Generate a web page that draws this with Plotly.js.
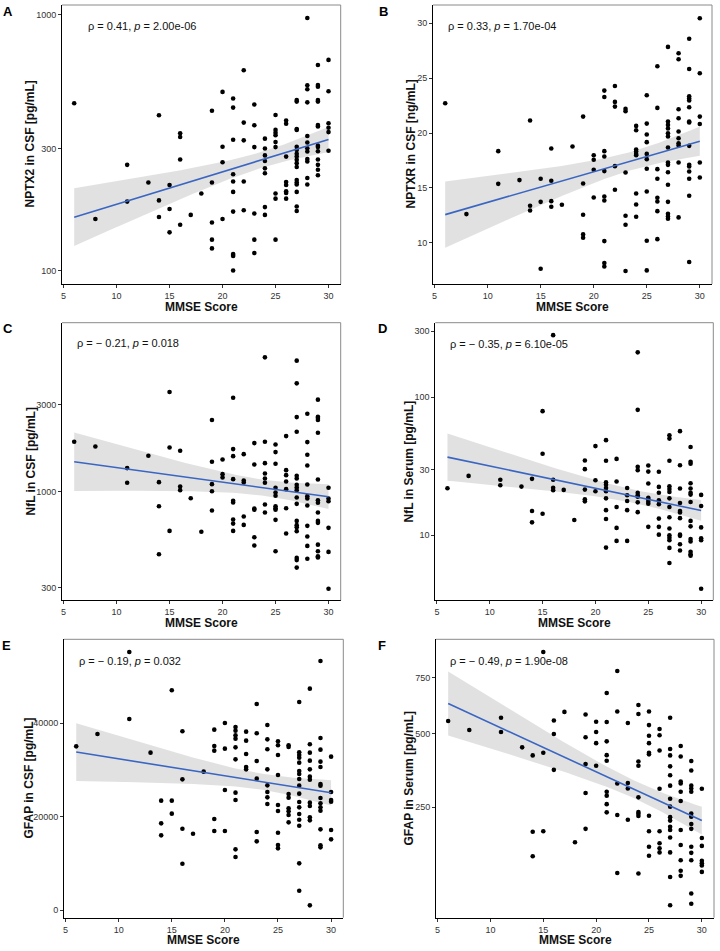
<!DOCTYPE html>
<html><head><meta charset="utf-8">
<script src="https://cdn.plot.ly/plotly-3.0.1.min.js"></script>
<style>body{margin:0;background:#fff}</style>
</head><body><div id="chart" style="width:720px;height:951px"></div>
<script>
// MMSE scores present in the cohort (shared x groups for every panel)
const mmseScores = [6,8,11,13,14,15,16,17,18,19,20,21,22,23,24,25,26,27,28,29,30];

// values grouped by MMSE score (same order as mmseScores)
const nptx2Csf = [[451],[159],[259,186],[221],[405,188,162],[216,174,141],[344,333,272,151],[165],[200],
 [422,221,154,132,122],[500,305,265,159],[471,434,325,238,223,203,170,116,114,100],[608,379,323,223,172],
 [446,370,304,167,132,117],[328,300,282,268,251,240,177,165],[406,355,346,338,318,304,200,191,132],
 [386,375,279,222,216,204,201,191],[465,458,358,355,305,296,286,279,271,263,254,226,221,217,203,178,171],
 [973,531,512,455,336,317,301,292,273,267,230,217],[637,532,524,465,458,371,366,308,304,293,272,259,248,236],
 [667,503,377,362,348,294]];
const nptxrCsf = [[22.72],[12.61],[18.35,15.37],[15.71],[21.14,13.37,12.94],[15.83,13.73,7.63],[18.59,15.65,13.79,13.28],[13.46],[18.77],
 [21.5,15.4,12.55,10.76,10.46],[17.98,17.56,16.65,14.13],[23.87,23.29,18.35,17.86,16.53,14.22,13.85,10.15,8.15,7.84],
 [24.29,22.84,22.41,16.98,14.83],[22.2,21.99,16.4,12.46,11.64,7.42],[20.65,20.26,18.5,18.32,18.1,17.98,14.49,13.49,12.37],
 [23.44,20.86,19.86,19.17,18.1,17.62,16.74,14.67,10.18,7.48],[26.09,22.29,16.71,15.83,14.1,13.76,12.88,10.33],
 [27.85,21.05,20.74,20.41,19.98,19.68,18.68,17.31,17.1,16.43,15.28,13.73,12.64,12.4,12.19],
 [27.27,26.72,22.17,21.35,20.14,19.53,19.07,18.86,17.31,12.31],
 [28.6,25.84,23.35,23.14,22.96,22.35,21.05,20.96,18.83,17.1,16.95,16.5,15.83,14.28,8.24],
 [30.46,25.45,21.5,20.83,17.31,15.95]];
const nflCsf = [[1875],[1769],[1347,1120],[1573],[1129,835,456],[3505,1747,612],[1675,1069,1021],[923],[605],
 [2464,1459,1101,1008,791],[1502,1249,1198],[3264,1711,1566,1173,893,874,706,671,612],[1606,1153,1125,733,660],
 [1845,1410,811,798,565,509],[5420,1875,1434,1259,1183,1120,853,771],[1814,1647,1422,1052,992,951,835,814,798,703,474],
 [2014,1313,1233,1139,1034,814,592],[5200,3908,2558,2128,1223,1183,1092,1056,1021,931,860,694,658,641,610,436,424,386],
 [2667,1868,1592,1393,1097,947,920,842,652,570,507,431],[3184,2571,2530,2464,2101,1168,900,871,771,694,677,515,474,445,438],
 [1052,920,889,636,470,296]];
const nflSerum = [[21.9],[26.9],[25.2,23.0],[22.5],[25.6,15.0,12.4],[79.2,38.9,14.3],[281,25.2,22.1,21.2],[21.3],[12.9],
 [34.8,30.1,21.4,18.2,17.6],[44.2,25.0,20.8],[48.8,34.6,24.2,23.2,22.0,20.8,18.5,15.2,13.1,8.14],[35.7,24.5,16.0,11.3,9.1],
 [22.0,19.5,17.7,15.2,9.1],[211,80.9,31.3,29.6,20.3,19.5,19.0,17.3,14.7],[32.0,28.9,23.7,18.7,18.2,17.5,16.9,11.5],
 [28.8,22.4,20.3,17.9,16.8,13.2,11.5,10.1],[53.0,50.1,34.6,22.6,21.6,20.6,18.5,16.0,13.5,11.2,10.0,9.6,9.2,8.1,6.3],
 [56.7,32.1,21.8,17.1,15.0,14.6,13.3,10.1,9.9,8.6,7.75],[43.5,34.0,32.9,23.8,21.8,20.3,19.7,17.4,12.7,11.6,9.4,9.0,7.6,7.3,7.1],
 [19.6,16.3,11.4,9.5,9.2,4.1]];
const gfapCsf = [[35071],[37714],[55286,40929],[33714],[23429,18571,16000],[47071,23429,20643],[38286,28000,17429,9929],[16357],[29643],
 [38643,35143,34143,19500,16929],[40071,34571,25714,16929],[39214,38429,37429,36714,34857,32286,25143,23571,13000,11357],
 [38214,36286,33429,30643,30143],[44143,37857,31929,28143,16714,14714],[39643,36571,34429,30143,26714,25286,24143,22714],
 [36143,35286,33214,28929,22500,21214,16571,13929,13214],[35286,34929,24857,24071,21786,21143,20357,18786],
 [44571,33786,33214,32643,31571,29786,29143,28071,26643,24929,23143,22000,20571,19357,18071,10000,4143],
 [47429,35500,33714,32000,30143,28571,27929,23000,22286,19857,19214,1000],
 [53357,36857,34357,31786,30643,27000,26643,24000,22857,22000,21286,17286,13857,13429],
 [32857,25286,23571,23214,17143,15143]];
const gfapSerum = [[553],[516],[567,508],[448],[418,186,131],[881,428,187],[555,500,367],[592],[161],
 [581,487,387,292,193],[550,508,464,381],[677,549,471,419,399,296,284,259,236],[783,594,322,229,99],
 [545,323,306,216],[622,583,396,381,279,237,232,226,98],[594,536,493,464,428,422,227,187,151,132],
 [520,495,436,305,187,159,148,139],[567,442,418,379,349,315,275,252,223,214,198,190,172,139,92,50],
 [453,414,328,322,296,268,190,155,123,103,94],[398,365,315,306,296,233,224,205,193,151,138,123,66,52],
 [305,171,153,122,117,113,101]];

const xTicks = [5,10,15,20,25,30];
const yTicksA = [100,300,1000];
const yTicksB = [10,15,20,25,30];
const yTicksC = [300,1000,3000];
const yTicksD = [10,30,100,300];
const yTicksE = [0,20000,40000];
const yTicksF = [250,500,750];

const panelLetters = ['A','B','C','D','E','F'];
const yTitles = ['NPTX2 in CSF [pg/mL]','NPTXR in CSF [ng/mL]','NfL in CSF [pg/mL]','NfL in Serum [pg/mL]','GFAP in CSF [pg/mL]','GFAP in Serum [pg/mL]'];
const statLabels = ['ρ = 0.41, <i>p</i> = 2.00e-06','ρ = 0.33, <i>p</i> = 1.70e-04','ρ = − 0.21, <i>p</i> = 0.018',
  'ρ = − 0.35, <i>p</i> = 6.10e-05','ρ = − 0.19, <i>p</i> = 0.032','ρ = − 0.49, <i>p</i> = 1.90e-08'];

// ---------- layout geometry (pixels) ----------
const W = 720, H = 951;
const panels = [
  {data:nptx2Csf, scale:'log',  ticks:yTicksA, yr:[1.947,3.039], box:{l:62,r:340.7,t:5,b:284},   ytx:30,  lab:{x:86,y:26},  let:{x:1,y:11}},
  {data:nptxrCsf, scale:'lin',  ticks:yTicksB, yr:[6.24,31.67],  box:{l:433,r:712,t:5,b:284},    ytx:411, lab:{x:446,y:26}, let:{x:377,y:11}},
  {data:nflCsf,   scale:'log',  ticks:yTicksC, yr:[2.408,3.923], box:{l:62,r:340.7,t:322.7,b:600.3}, ytx:30, lab:{x:75,y:343}, let:{x:1,y:328}},
  {data:nflSerum, scale:'log',  ticks:yTicksD, yr:[0.529,2.539], box:{l:435.3,r:713.3,t:322.7,b:600.3}, ytx:408, lab:{x:448,y:344}, let:{x:376,y:328}},
  {data:gfapCsf,  scale:'lin',  ticks:yTicksE, yr:[-1643,58000], box:{l:64,r:343.3,t:639.3,b:917.7}, ytx:28, lab:{x:77,y:661}, let:{x:0,y:645.5}},
  {data:gfapSerum,scale:'sqrt', ticks:yTicksF, yr:[5.96,30.81],  box:{l:436,r:714,t:639.3,b:917.7}, ytx:408, lab:{x:448,y:661}, let:{x:376,y:645.5}}
];

const px2x = p => p / W;
const px2y = p => 1 - p / H;
const font = 'Liberation Sans, Arial, Helvetica, sans-serif';

const traces = [];
const layout = {
  width: W, height: H, margin:{l:0,r:0,t:0,b:0},
  paper_bgcolor:'#fff', plot_bgcolor:'#fff', showlegend:false,
  font:{family:font, color:'#222'},
  annotations:[], shapes:[]
};

function tf(v, scale){ return scale==='log' ? Math.log10(v) : scale==='sqrt' ? Math.sqrt(v) : v; }
function plotVal(t, scale){ return scale==='log' ? Math.pow(10,t) : t; } // sqrt panel is drawn in sqrt units

panels.forEach((p, i) => {
  const s = i === 0 ? '' : String(i+1);
  const xa = 'x'+s, ya = 'y'+s;
  const xs = [], ys = [];
  p.data.forEach((grp, gi) => grp.forEach(v => { xs.push(mmseScores[gi]); ys.push(v); }));
  const ts = ys.map(v => tf(v, p.scale));
  // linear model on the transformed scale with 95% CI
  const n = xs.length;
  const xm = xs.reduce((a,b)=>a+b,0)/n, tm = ts.reduce((a,b)=>a+b,0)/n;
  let sxx=0, sxy=0;
  for (let k=0;k<n;k++){ sxx += (xs[k]-xm)**2; sxy += (xs[k]-xm)*(ts[k]-tm); }
  const b = sxy/sxx, a = tm - b*xm;
  let sse=0; for (let k=0;k<n;k++){ sse += (ts[k]-a-b*xs[k])**2; }
  const se = Math.sqrt(sse/(n-2)), tc = 1.98;
  const xmin = Math.min(...xs), xmax = Math.max(...xs);
  const gx=[], gf=[], gl=[], gh=[];
  for (let k=0;k<=80;k++){
    const x0 = xmin + (xmax-xmin)*k/80;
    const f = a + b*x0;
    const h = tc*se*Math.sqrt(1/n + (x0-xm)**2/sxx);
    gx.push(x0); gf.push(plotVal(f,p.scale)); gl.push(plotVal(f-h,p.scale)); gh.push(plotVal(f+h,p.scale));
  }
  traces.push({type:'scatter', mode:'lines', x:gx.concat(gx.slice().reverse()), y:gh.concat(gl.slice().reverse()),
    fill:'toself', fillcolor:'rgba(175,175,175,0.38)', line:{width:0}, hoverinfo:'skip', xaxis:xa, yaxis:ya});
  traces.push({type:'scatter', mode:'markers', x:xs, y: p.scale==='sqrt' ? ts : ys,
    marker:{size:4.6, color:'#000'}, xaxis:xa, yaxis:ya});
  traces.push({type:'scatter', mode:'lines', x:gx, y:gf, line:{color:'#3a66c2', width:1.6}, xaxis:xa, yaxis:ya});

  const axCommon = {showgrid:false, zeroline:false, showline:true, linecolor:'#000', linewidth:1,
    ticks:'outside', ticklen:3, tickcolor:'#333', tickwidth:1, tickfont:{size:9, color:'#333', family:font}};
  layout['xaxis'+s] = Object.assign({}, axCommon, {domain:[px2x(p.box.l), px2x(p.box.r)], range:[4.85,31.15],
    tickvals:xTicks, ticktext:xTicks.map(String), anchor:ya});
  const yax = Object.assign({}, axCommon, {domain:[px2y(p.box.b), px2y(p.box.t)], anchor:xa});
  if (p.scale==='log'){ yax.type='log'; yax.range=p.yr; yax.tickvals=p.ticks; yax.ticktext=p.ticks.map(String); }
  else if (p.scale==='sqrt'){ yax.range=p.yr; yax.tickvals=p.ticks.map(Math.sqrt); yax.ticktext=p.ticks.map(String); }
  else { yax.range=p.yr; yax.tickvals=p.ticks; yax.ticktext=p.ticks.map(String); }
  layout['yaxis'+s] = yax;

  const xr = xa+' domain', yr = ya+' domain';
  layout.shapes.push({type:'line', xref:xr, yref:yr, x0:0, x1:1, y0:1, y1:1, line:{color:'#8a8a8a', width:1}});
  layout.shapes.push({type:'line', xref:xr, yref:yr, x0:1, x1:1, y0:0, y1:1, line:{color:'#8a8a8a', width:1}});

  layout.annotations.push({xref:'paper', yref:'paper', x:px2x((p.box.l+p.box.r)/2), y:px2y(p.box.b+22.5),
    xanchor:'center', yanchor:'middle', showarrow:false, text:'<b>MMSE Score</b>', font:{size:12, color:'#111', family:font}});
  layout.annotations.push({xref:'paper', yref:'paper', x:px2x(p.ytx), y:px2y((p.box.t+p.box.b)/2),
    xanchor:'center', yanchor:'middle', textangle:-90, showarrow:false, text:'<b>'+yTitles[i]+'</b>', font:{size:12, color:'#111', family:font}});
  layout.annotations.push({xref:'paper', yref:'paper', x:px2x(p.lab.x), y:px2y(p.lab.y),
    xanchor:'left', yanchor:'middle', showarrow:false, text:statLabels[i], font:{size:11, color:'#111', family:font}});
  layout.annotations.push({xref:'paper', yref:'paper', x:px2x(p.let.x), y:px2y(p.let.y),
    xanchor:'left', yanchor:'middle', showarrow:false, text:'<b>'+panelLetters[i]+'</b>', font:{size:13, color:'#000', family:font}});
});

Plotly.newPlot('chart', traces, layout, {displayModeBar:false, staticPlot:true});
</script></body></html>
